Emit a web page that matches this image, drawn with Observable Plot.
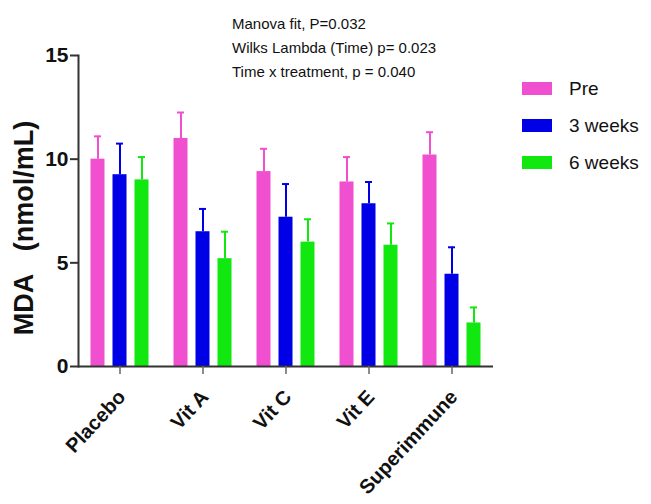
<!DOCTYPE html>
<html>
<head>
<meta charset="utf-8">
<script src="https://cdn.jsdelivr.net/npm/d3@7"></script>
<script src="https://cdn.jsdelivr.net/npm/@observablehq/plot@0.6"></script>
<style>
  html, body { margin: 0; padding: 0; background: #fff; }
  #wrap { position: relative; width: 651px; height: 504px; overflow: hidden; font-family: "Liberation Sans", Arial, sans-serif; }
  #note { position: absolute; left: 232px; top: 12px; font-size: 15px; line-height: 24px; color: #111; }
  #legend { position: absolute; left: 522px; top: 70px; font-size: 19px; color: #111; }
  #legend .row { display: flex; align-items: center; height: 37px; }
  #legend .sw { width: 30px; height: 13px; margin-right: 17px; }
  svg text { font-family: "Liberation Sans", Arial, sans-serif; }
</style>
</head>
<body>
<div id="wrap"></div>
<script>
const categories = ["Placebo", "Vit A", "Vit C", "Vit E", "Superimmune"];
const series = ["Pre", "3 weeks", "6 weeks"];
const colors = ["#f04fcf", "#0000e6", "#10e810"];
const preValues = [10.0, 11.0, 9.4, 8.9, 10.2];
const preErrors = [1.1, 1.25, 1.1, 1.2, 1.1];
const week3Values = [9.25, 6.5, 7.2, 7.85, 4.45];
const week3Errors = [1.5, 1.1, 1.6, 1.05, 1.3];
const week6Values = [9.0, 5.2, 6.0, 5.85, 2.1];
const week6Errors = [1.1, 1.3, 1.1, 1.05, 0.75];
const yTicks = [0, 5, 10, 15];
const yLabel = "MDA\u00a0\u00a0\u00a0(nmol/mL)";
const notes = ["Manova fit, P=0.032", "Wilks Lambda (Time) p= 0.023", "Time x treatment, p = 0.040"];

const valueSets = [preValues, week3Values, week6Values];
const errorSets = [preErrors, week3Errors, week6Errors];
const offsets = [-22, 0, 22];
const band = (651 - 78 - 158) / categories.length;
const barW = 14, capW = 7;

const marks = [];
series.forEach((s, i) => {
  const rows = categories.map((c, j) => ({cat: c, series: s, value: valueSets[i][j], err: errorSets[i][j]}));
  marks.push(Plot.ruleX(rows, {x: "cat", y1: "value", y2: d => d.value + d.err, stroke: colors[i], strokeWidth: 2, dx: offsets[i]}));
  marks.push(Plot.tickY(rows, {x: "cat", y: d => d.value + d.err, stroke: colors[i], strokeWidth: 2, dx: offsets[i], insetLeft: (band - capW) / 2, insetRight: (band - capW) / 2}));
  marks.push(Plot.barY(rows, {x: "cat", y: "value", fill: colors[i], dx: offsets[i], insetLeft: (band - barW) / 2, insetRight: (band - barW) / 2}));
});

const chart = Plot.plot({
  width: 651,
  height: 504,
  marginLeft: 78,
  marginRight: 158,
  marginTop: 55,
  marginBottom: 138,
  x: {domain: categories, padding: 0, label: null},
  y: {domain: [0, 15], label: null},
  marks: [
    ...marks,
    Plot.ruleY([0], {stroke: "#333", strokeWidth: 2}),
    Plot.frame({anchor: "left", stroke: "#333", strokeWidth: 2}),
    Plot.axisX({tickSize: 8, stroke: "#666", strokeWidth: 1.5, text: null, label: null}),
    Plot.axisX({tickSize: 0, tickRotate: -47, fontSize: 20, fontWeight: "bold", label: null, tickPadding: 9, dx: 2, dy: 18, fill: "#111"}),
    Plot.axisY({ticks: yTicks, tickSize: 8, fontSize: 21, fontWeight: "bold", label: null, tickPadding: 2, stroke: "#333", strokeWidth: 2, fill: "#111"}),
    Plot.text([yLabel], {frameAnchor: "left", textAnchor: "middle", dx: -54, dy: 17, rotate: -90, fontSize: 27, fontWeight: "bold", fill: "#111"})
  ]
});

const wrap = document.getElementById("wrap");
wrap.appendChild(chart);

const note = document.createElement("div");
note.id = "note";
notes.forEach(t => { const d = document.createElement("div"); d.textContent = t; note.appendChild(d); });
wrap.appendChild(note);

const legend = document.createElement("div");
legend.id = "legend";
series.forEach((s, i) => {
  const row = document.createElement("div"); row.className = "row";
  const sw = document.createElement("span"); sw.className = "sw"; sw.style.background = colors[i];
  const tx = document.createElement("span"); tx.textContent = s;
  row.appendChild(sw); row.appendChild(tx); legend.appendChild(row);
});
wrap.appendChild(legend);
</script>
</body>
</html>
